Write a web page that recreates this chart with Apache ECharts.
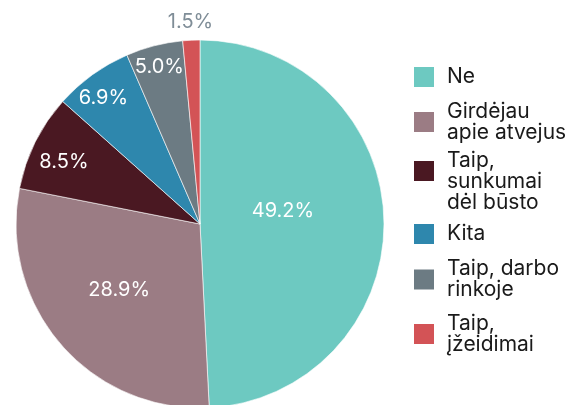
<!DOCTYPE html>
<html>
<head>
<meta charset="utf-8">
<script src="https://cdn.jsdelivr.net/npm/echarts@6/dist/echarts.min.js"></script>
<style>
  html, body { margin: 0; padding: 0; background: #fff; }
  #chart { width: 573px; height: 405px; }
</style>
</head>
<body>
<div id="chart"></div>
<script>
// atsakymų kategorijos (legendos tekstai)
const categories = [
  'Ne',
  'Girdėjau\napie atvejus',
  'Taip,\nsunkumai\ndėl būsto',
  'Kita',
  'Taip, darbo\nrinkoje',
  'Taip,\nįžeidimai'
]
// procentai
const values = [49.2, 28.9, 8.5, 6.9, 5.0, 1.5]
const colors = ['#6dc9c1', '#9b7c84', '#4a1822', '#2e87ad', '#6c7b83', '#d35356']

// etikečių pataisos nuo numatytos vietos
const labelOffsets = [[-12, -11], [-9, 4], [-51, -20], [-41, -49], [-17, -65], [-5, -107]]

const chart = echarts.init(document.getElementById('chart'), null, { renderer: 'canvas' })

const font = 'Inter, "Noto Sans", sans-serif'

const pieData = categories.map((name, i) => ({
  name: name,
  value: values[i],
  itemStyle: { color: colors[i] },
  label: {
    offset: labelOffsets[i],
    color: i === 5 ? '#7f8d97' : '#ffffff'
  }
}))

const legendBase = {
  orient: 'vertical',
  left: 412,
  padding: 0,
  itemWidth: 22,
  itemHeight: 22,
  icon: 'rect',
  selectedMode: false,
  textStyle: {
    fontFamily: font,
    fontSize: 21,
    color: '#1a1a1a',
    lineHeight: 21,
    padding: [0, 0, 0, 7]
  }
}

const option = {
  animation: false,
  legend: [
    Object.assign({}, legendBase, {
      top: 65,
      itemGap: 12,
      data: [categories[0], categories[1]]
    }),
    Object.assign({}, legendBase, {
      top: 129,
      data: [categories[2]],
      // tuščia pirmoji eilutė, kad kvadratėlis būtų tarp 1 ir 2 eilučių
      formatter: (name) => '\n' + name
    }),
    Object.assign({}, legendBase, {
      top: 222,
      itemGap: 12.5,
      data: [categories[3], categories[4], categories[5]]
    })
  ],
  series: [{
    type: 'pie',
    center: [200, 224],
    radius: [0, 184],
    startAngle: 90,
    clockwise: true,
    avoidLabelOverlap: false,
    itemStyle: {
      borderColor: '#ffffff',
      borderWidth: 0.6
    },
    label: {
      show: true,
      position: 'inside',
      fontFamily: font,
      fontSize: 20,
      formatter: (p) => p.value.toFixed(1) + '%'
    },
    labelLine: { show: false },
    emphasis: { disabled: true },
    data: pieData
  }]
}

chart.setOption(option)
</script>
</body>
</html>
